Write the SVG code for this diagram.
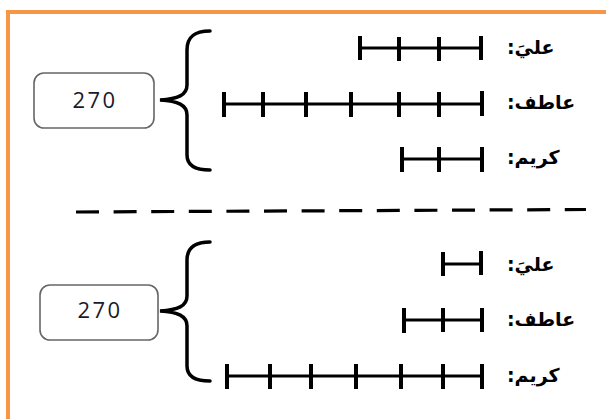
<svg xmlns="http://www.w3.org/2000/svg" width="606" height="419" viewBox="0 0 606 419">
<style>
.frame{fill:none;stroke:#F79646;stroke-width:4}
.box{fill:#fff;stroke:#666;stroke-width:1.6}
.num{font-family:"Open Sans","DejaVu Sans",sans-serif;font-size:22px;letter-spacing:2.5px;fill:#1a1a2a;text-anchor:middle}
.brace{fill:none;stroke:#000;stroke-width:3.5;stroke-linecap:round}
.bar{stroke:#000;stroke-width:3}
.tick{stroke:#000;stroke-width:4}
.lbl{font-family:"DejaVu Sans",sans-serif;font-size:19px;font-weight:bold;fill:#000;text-anchor:end}
.dash{stroke:#000;stroke-width:3.2;stroke-dasharray:23 14.6}
</style>
<rect width="606" height="419" fill="#fff"/>
<path class="frame" d="M8,419 V12 H606"/>

<g id="top-total">
<rect class="box" x="34" y="73" width="120" height="55" rx="10"/>
<text class="num" x="95" y="108">270</text>
</g>
<g id="top-brace">
<path class="brace" d="M210,31 C195,31 187,36 187,50 V85 C187,95 178,99 160,100 C178,101 187,105 187,115 V155 C187,165 195,170 210,170"/>
</g>
<g id="top-ali">
<line class="bar" x1="360" y1="48" x2="481" y2="48"/>
<line class="tick" x1="360" y1="36" x2="360" y2="60"/>
<line class="tick" x1="399" y1="37" x2="399" y2="61"/>
<line class="tick" x1="439" y1="37" x2="439" y2="61"/>
<line class="tick" x1="481" y1="36" x2="481" y2="60"/>
<text class="lbl" direction="rtl" x="507" y="54">عليَ:</text>
</g>
<g id="top-atef">
<line class="bar" x1="224" y1="104" x2="482" y2="104"/>
<line class="tick" x1="224" y1="92" x2="224" y2="117"/>
<line class="tick" x1="263" y1="92" x2="263" y2="117"/>
<line class="tick" x1="306" y1="92" x2="306" y2="117"/>
<line class="tick" x1="351" y1="92" x2="351" y2="117"/>
<line class="tick" x1="399" y1="92" x2="399" y2="117"/>
<line class="tick" x1="439" y1="92" x2="439" y2="117"/>
<line class="tick" x1="482" y1="91" x2="482" y2="116"/>
<text class="lbl" direction="rtl" x="507" y="109">عاطف:</text>
</g>
<g id="top-karim">
<line class="bar" x1="402" y1="159" x2="482" y2="159"/>
<line class="tick" x1="402" y1="147" x2="402" y2="172"/>
<line class="tick" x1="439" y1="147" x2="439" y2="172"/>
<line class="tick" x1="482" y1="147" x2="482" y2="172"/>
<text class="lbl" direction="rtl" x="507" y="164">كريم:</text>
</g>

<g id="separator">
<line class="dash" x1="76" y1="212" x2="586" y2="209.5"/>
</g>

<g id="bottom-total">
<rect class="box" x="40" y="285" width="118" height="55" rx="10"/>
<text class="num" x="100" y="318">270</text>
</g>
<g id="bottom-brace">
<path class="brace" d="M210,242 C195,242 187,248 187,260 V296 C187,306 178,310 160,311 C178,312 187,316 187,326 V366 C187,376 195,381 210,381"/>
</g>
<g id="bottom-ali">
<line class="bar" x1="443" y1="264" x2="481" y2="264"/>
<line class="tick" x1="443" y1="252" x2="443" y2="276"/>
<line class="tick" x1="481" y1="251" x2="481" y2="275"/>
<text class="lbl" direction="rtl" x="507" y="271">عليَ:</text>
</g>
<g id="bottom-atef">
<line class="bar" x1="404" y1="320" x2="482" y2="320"/>
<line class="tick" x1="404" y1="308" x2="404" y2="333"/>
<line class="tick" x1="443" y1="308" x2="443" y2="332"/>
<line class="tick" x1="482" y1="308" x2="482" y2="332"/>
<text class="lbl" direction="rtl" x="507" y="326">عاطف:</text>
</g>
<g id="bottom-karim">
<line class="bar" x1="227" y1="376" x2="482" y2="376"/>
<line class="tick" x1="227" y1="364" x2="227" y2="389"/>
<line class="tick" x1="270" y1="364" x2="270" y2="389"/>
<line class="tick" x1="311" y1="364" x2="311" y2="389"/>
<line class="tick" x1="356" y1="364" x2="356" y2="389"/>
<line class="tick" x1="401" y1="364" x2="401" y2="389"/>
<line class="tick" x1="443" y1="364" x2="443" y2="389"/>
<line class="tick" x1="482" y1="364" x2="482" y2="389"/>
<text class="lbl" direction="rtl" x="507" y="382">كريم:</text>
</g>
</svg>
